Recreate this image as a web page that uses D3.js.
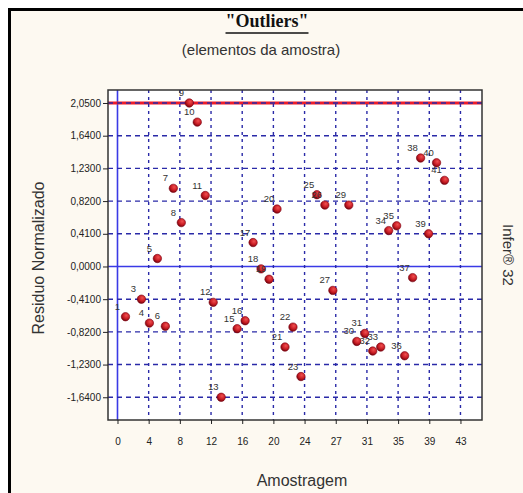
<!DOCTYPE html>
<html><head><meta charset="utf-8">
<script src="https://cdn.jsdelivr.net/npm/d3@7"></script>
<style>
html,body{margin:0;padding:0;background:#fff;}
svg{display:block;}
</style></head>
<body>
<svg id="chart" width="523" height="493"></svg>
<script>
// ---- data ----
const sampleIds = [1,3,4,5,6,7,8,9,10,11,12,13,15,16,17,18,19,20,21,22,23,25,26,27,29,30,31,32,33,34,35,36,37,38,39,40,41];
const residuals = [-0.63,-0.41,-0.71,0.10,-0.75,0.98,0.55,2.05,1.81,0.89,-0.45,-1.64,-0.78,-0.68,0.30,-0.03,-0.16,0.72,-1.01,-0.76,-1.38,0.90,0.77,-0.30,0.77,-0.94,-0.84,-1.06,-1.01,0.45,0.51,-1.12,-0.14,1.36,0.41,1.30,1.08];
const xTickLabels = ["0","4","8","12","16","20","24","27","31","35","39","43"];
const yTickValues = [2.05,1.64,1.23,0.82,0.41,0,-0.41,-0.82,-1.23,-1.64];
const yTickLabels = ["2,0500","1,6400","1,2300","0,8200","0,4100","0,0000","-0,4100","-0,8200","-1,2300","-1,6400"];
const limitValue = 2.05;
const xMax = 43;

// ---- layout ----
const svg = d3.select("#chart");
const plot = {left:108, top:90, right:482, bottom:420};
const x = d3.scaleLinear().domain([-1.19, 45.7]).range([plot.left, plot.right]);
const y = d3.scaleLinear().domain([-1.925, 2.213]).range([plot.bottom, plot.top]);
const xTickValues = xTickLabels.map((d,i)=> i*xMax/(xTickLabels.length-1));

// frame background
svg.append("rect").attr("x",0).attr("y",0).attr("width",523).attr("height",493).attr("fill","#ffffff");
svg.append("rect").attr("x",9.5).attr("y",9.5).attr("width",540).attr("height",520)
  .attr("fill","#fdf9f1").attr("stroke","#000").attr("stroke-width",3);

// plot area
svg.append("rect").attr("x",plot.left).attr("y",plot.top).attr("width",plot.right-plot.left).attr("height",plot.bottom-plot.top)
  .attr("fill","#ffffff");

const defs = svg.append("defs");
const grad = defs.append("radialGradient").attr("id","ball").attr("cx","60%").attr("cy","35%").attr("r","70%");
grad.append("stop").attr("offset","0%").attr("stop-color","#f05050");
grad.append("stop").attr("offset","55%").attr("stop-color","#c81c24");
grad.append("stop").attr("offset","100%").attr("stop-color","#6a0008");

// zero lines (solid blue)
svg.append("line").attr("x1",plot.left).attr("x2",plot.right).attr("y1",y(0)).attr("y2",y(0))
  .attr("stroke","#3a3ae6").attr("stroke-width",1.6);
svg.append("line").attr("x1",x(0)).attr("x2",x(0)).attr("y1",plot.top).attr("y2",plot.bottom)
  .attr("stroke","#3a3ae6").attr("stroke-width",1.6);

// limit line (red)
svg.append("line").attr("x1",plot.left).attr("x2",plot.right).attr("y1",y(limitValue)).attr("y2",y(limitValue))
  .attr("stroke","#ee1c2a").attr("stroke-width",3);

// grid
const grid = svg.append("g");
grid.selectAll("line.h").data(yTickValues.filter(v=>v!==0)).enter().append("line")
  .attr("x1",plot.left).attr("x2",plot.right).attr("y1",d=>y(d)).attr("y2",d=>y(d))
  .attr("stroke","#2a2aa8").attr("stroke-width",1.4).attr("stroke-dasharray","5,4");
grid.selectAll("line.v").data(xTickValues.filter(v=>v!==0)).enter().append("line")
  .attr("x1",d=>x(d)).attr("x2",d=>x(d)).attr("y1",plot.top).attr("y2",plot.bottom)
  .attr("stroke","#2a2aa8").attr("stroke-width",1.4).attr("stroke-dasharray","3,4");

// plot border
svg.append("rect").attr("x",plot.left).attr("y",plot.top).attr("width",plot.right-plot.left).attr("height",plot.bottom-plot.top)
  .attr("fill","none").attr("stroke","#333").attr("stroke-width",1.5);

// axes
const yAxis = d3.axisLeft(y).tickValues(yTickValues).tickFormat((d,i)=>yTickLabels[i]).tickSize(5).tickPadding(2);
const gy = svg.append("g").attr("transform",`translate(${plot.left},0)`).call(yAxis);
gy.select(".domain").remove();
gy.selectAll("line").attr("stroke","#222");
gy.selectAll("text").attr("font-family","Liberation Sans, Arial, sans-serif").attr("font-size","10px").attr("fill","#222");

const xAxis = d3.axisBottom(x).tickValues(xTickValues).tickFormat((d,i)=>xTickLabels[i]).tickSize(4).tickPadding(14);
const gx = svg.append("g").attr("transform",`translate(0,${plot.bottom})`).call(xAxis);
gx.select(".domain").remove();
gx.selectAll("line").attr("stroke","#222");
gx.selectAll("text").attr("font-family","Liberation Sans, Arial, sans-serif").attr("font-size","10px").attr("fill","#222");

// points
const pts = sampleIds.map((id,i)=>({id, v:residuals[i]}));
svg.append("g").selectAll("circle").data(pts).enter().append("circle")
  .attr("cx",d=>x(d.id)).attr("cy",d=>y(d.v)).attr("r",4.2)
  .attr("fill","url(#ball)").attr("stroke","#7a0010").attr("stroke-width",0.6);

svg.append("g").selectAll("text").data(pts).enter().append("text")
  .attr("x",d=>x(d.id)-8).attr("y",d=>y(d.v)-7)
  .attr("text-anchor","middle")
  .attr("font-family","Liberation Sans, Arial, sans-serif").attr("font-size","9.5px").attr("fill","#333")
  .text(d=>d.id);

// titles
const title = svg.append("text").attr("x",267).attr("y",27).attr("text-anchor","middle")
  .attr("font-family","Liberation Serif, Times New Roman, serif").attr("font-weight","bold").attr("font-size","18px")
  .attr("fill","#111").text("\"Outliers\"");
const tb = title.node().getBBox();
svg.append("line").attr("x1",tb.x).attr("x2",tb.x+tb.width).attr("y1",33).attr("y2",33).attr("stroke","#111").attr("stroke-width",1.5);

svg.append("text").attr("x",261).attr("y",55).attr("text-anchor","middle")
  .attr("font-family","Liberation Sans, Arial, sans-serif").attr("font-size","15px").attr("fill","#333")
  .text("(elementos da amostra)");

svg.append("text").attr("transform","translate(44,258) rotate(-90)").attr("text-anchor","middle")
  .attr("font-family","Liberation Sans, Arial, sans-serif").attr("font-size","16px").attr("fill","#333")
  .text("Residuo Normalizado");

svg.append("text").attr("x",302).attr("y",486).attr("text-anchor","middle")
  .attr("font-family","Liberation Sans, Arial, sans-serif").attr("font-size","16px").attr("fill","#333")
  .text("Amostragem");

svg.append("text").attr("transform","translate(503,255) rotate(90)").attr("text-anchor","middle")
  .attr("font-family","Liberation Sans, Arial, sans-serif").attr("font-size","15px").attr("fill","#333")
  .text("Infer® 32");
</script>
</body></html>
